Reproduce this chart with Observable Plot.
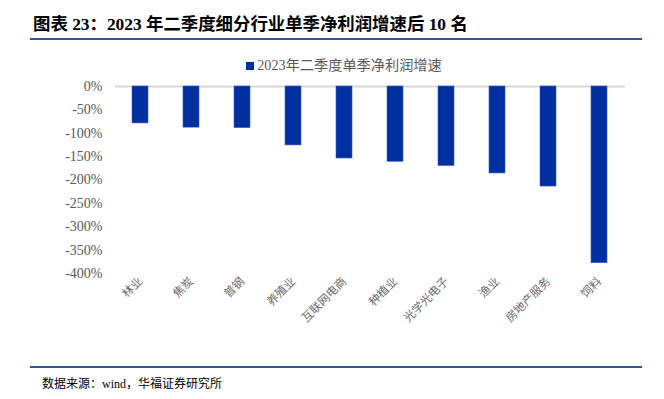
<!DOCTYPE html>
<html>
<head>
<meta charset="utf-8">
<script src="https://cdn.jsdelivr.net/npm/d3@7"></script>
<script src="https://cdn.jsdelivr.net/npm/@observablehq/plot@0.6"></script>
<style>
  html, body { margin: 0; padding: 0; background: #fff; }
  #wrap { position: relative; width: 664px; height: 399px; overflow: hidden; }
  .title { position: absolute; left: 33px; top: 10px; font: bold 17.4px "Liberation Serif", "Noto Sans CJK SC", serif; color: #000; white-space: nowrap; }
  .rule { position: absolute; left: 30px; width: 612px; height: 2px; background: #2a5aa0; }
  .legend { position: absolute; top: 54px; left: 0; width: 688px; text-align: center; font: 14.2px "Liberation Serif", "Noto Sans CJK SC", serif; color: #595959; white-space: nowrap; }
  .legend .sw { display: inline-block; width: 8px; height: 8px; background: #0030a0; margin-right: 3px; vertical-align: 0px; }
  .source { position: absolute; left: 42px; top: 374px; font: 12px "Liberation Serif", "Noto Sans CJK SC", serif; color: #000; white-space: nowrap; }
  #chart { position: absolute; left: 0; top: 75px; }
  #chart svg text { font-family: "Liberation Serif", "Noto Sans CJK SC", serif; }
</style>
</head>
<body>
<div id="wrap">
  <div class="title">图表 23：2023 年二季度细分行业单季净利润增速后 10 名</div>
  <div class="rule" style="top:38px"></div>
  <div class="legend"><span class="sw"></span>2023年二季度单季净利润增速</div>
  <div id="chart"></div>
  <div class="rule" style="top:366px"></div>
  <div class="source">数据来源：wind，华福证券研究所</div>
</div>
<script>
const industries = ["林业", "焦炭", "普钢", "养殖业", "互联网电商", "种植业", "光学光电子", "渔业", "房地产服务", "饲料"];
const growth = [-79, -88, -89, -126, -154, -161, -170, -186, -214, -378];
const yTicks = [0, -50, -100, -150, -200, -250, -300, -350, -400];

const data = industries.map((name, i) => ({name, value: growth[i]}));

const chart = Plot.plot({
  width: 664,
  height: 270,
  marginLeft: 115,
  marginRight: 39,
  marginTop: 11,
  marginBottom: 72,
  style: {fontFamily: '"Liberation Serif", "Noto Sans CJK SC", serif', fontSize: "12px", background: "#fff"},
  x: {domain: industries, paddingInner: 0.686, paddingOuter: 0.343, label: null},
  y: {domain: [-400, 0], label: null},
  marks: [
    Plot.ruleY([0], {stroke: "#d9d9d9", strokeWidth: 2}),
    Plot.barY(data, {x: "name", y: "value", fill: "#0030a0", stroke: "#3a5fc8", strokeWidth: 0.6}),
    Plot.axisY(yTicks, {tickSize: 0, tickPadding: 13, tickFormat: d => d + "%", fontSize: 14, fill: "#595959", label: null}),
    Plot.axisX({tickSize: 0, tickPadding: 6, tickRotate: -45, fontSize: 11.5, fill: "#6a6a6a", label: null})
  ]
});
document.getElementById("chart").appendChild(chart);
</script>
</body>
</html>
